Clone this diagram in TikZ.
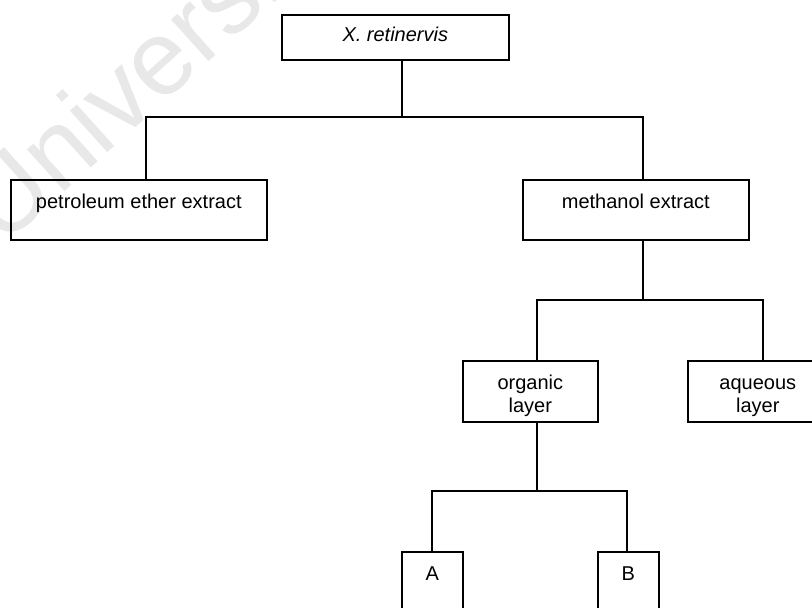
\documentclass[tikz,border=0pt]{standalone}
\usepackage{fontspec}
\setmainfont{Liberation Sans}
\begin{document}
\begin{tikzpicture}[x=1pt,y=-1pt,
  box/.style={draw, line width=1.6pt, inner xsep=0pt, inner ysep=0pt, anchor=north west,
    align=center, font=\fontsize{20}{23}\selectfont},
  conn/.style={line width=1.6pt}]
\path[use as bounding box, clip] (0,0) rectangle (812,608);
\fill[white] (0,0) rectangle (812,608);
% watermark
\node[rotate=42, anchor=base west, text=black!9, inner sep=0pt,
  font=\fontsize{106}{106}\selectfont] (wm) at (2,248) {University};
% boxes
\node[box, minimum width=227pt, text height=27pt, text depth=18pt] (top) at (281,14) {\itshape X. retinervis};
\node[box, minimum width=256pt, text height=29pt, text depth=31pt] (pet) at (10,179) {petroleum ether extract};
\node[box, minimum width=226pt, text height=29pt, text depth=31pt] (meth) at (522,179) {methanol extract};
\node[box, minimum width=135pt, text height=52pt, text depth=9pt] (org) at (462,360) {organic\\layer};
\node[box, minimum width=140pt, text height=52pt, text depth=9pt] (aq) at (687,360) {aqueous\\layer};
\node[box, minimum width=61pt, text height=29pt, text depth=45pt] (A) at (401,551) {A};
\node[box, minimum width=61pt, text height=29pt, text depth=45pt] (B) at (597,551) {B};
% connectors
\coordinate (j1) at (402,117);
\coordinate (pj) at (146,117);
\coordinate (mj) at (643,117);
\draw[conn] (top.south -| j1) -- (j1);
\draw[conn] (pet.north -| pj) -- (pj) -- (mj) -- (meth.north -| mj);
\coordinate (j2) at (643,300);
\coordinate (oj) at (537,300);
\coordinate (aj) at (763,300);
\draw[conn] (meth.south -| j2) -- (j2);
\draw[conn] (org.north -| oj) -- (oj) -- (aj) -- (aq.north -| aj);
\coordinate (j3) at (537,491);
\coordinate (Aj) at (432,491);
\coordinate (Bj) at (627,491);
\draw[conn] (org.south -| j3) -- (j3);
\draw[conn] (A.north -| Aj) -- (Aj) -- (Bj) -- (B.north -| Bj);
\end{tikzpicture}
\end{document}
